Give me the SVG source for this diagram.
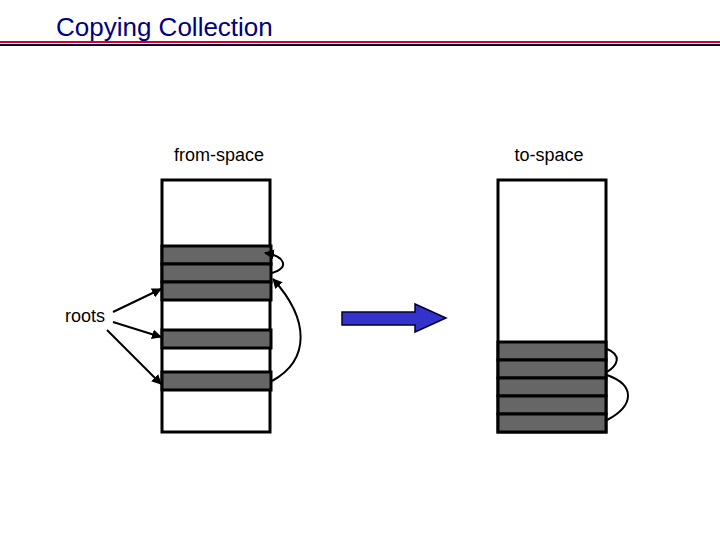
<svg xmlns="http://www.w3.org/2000/svg" width="720" height="540" viewBox="0 0 720 540">
<style>
text{font-family:"Liberation Sans",Arial,sans-serif;fill:#000}
.sp{fill:#fff;stroke:#000;stroke-width:3}
.b{fill:#666;stroke:#000;stroke-width:3}
.c{fill:none;stroke:#000;stroke-width:2}
</style>
<defs><marker id="ah" viewBox="0 0 10 10" refX="9" refY="5" markerWidth="5" markerHeight="5" orient="auto"><path d="M0,0L10,5L0,10z" fill="#000"/></marker></defs>
<text x="56" y="36" font-size="26" style="fill:#000080">Copying Collection</text>
<rect x="0" y="41" width="720" height="2" fill="#cc0033"/>
<rect x="0" y="44" width="720" height="2" fill="#000040"/>
<g id="from-space">
<text x="219" y="161" font-size="18" text-anchor="middle">from-space</text>
<rect class="sp" x="162" y="180" width="108" height="252"/>
<rect class="b" x="162" y="246" width="109" height="18"/>
<rect class="b" x="162" y="264" width="109" height="18"/>
<rect class="b" x="162" y="282" width="109" height="18"/>
<rect class="b" x="162" y="330" width="109" height="18"/>
<rect class="b" x="162" y="372" width="109" height="18"/>
</g>
<g id="to-space">
<text x="549" y="161" font-size="18" text-anchor="middle">to-space</text>
<rect class="sp" x="498" y="180" width="108" height="252"/>
<rect class="b" x="498" y="342" width="108" height="18"/>
<rect class="b" x="498" y="360" width="108" height="18"/>
<rect class="b" x="498" y="378" width="108" height="18"/>
<rect class="b" x="498" y="396" width="108" height="18"/>
<rect class="b" x="498" y="414" width="108" height="18"/>
</g>
<g id="roots"><text x="65" y="322" font-size="18">roots</text></g>
<g id="copy-arrow"><path d="M342,312H415V304L446,318L415,332V325H342Z" fill="#3333cc" stroke="#000033" stroke-width="1.5"/></g>
<g id="connectors">
<path class="c" d="M113,312L161,289" marker-end="url(#ah)"/>
<path class="c" d="M113,322L161,337" marker-end="url(#ah)"/>
<path class="c" d="M107,330L161,384" marker-end="url(#ah)"/>
<path class="c" d="M272,273C290,268 285,256 265,253" marker-end="url(#ah)"/>
<path class="c" d="M272,381C310,360 310,320 273,279" marker-end="url(#ah)"/>
<path class="c" d="M607,349C622,355 618,365 607,372"/>
<path class="c" d="M607,375C635,385 635,405 607,420"/>
</g>
</svg>
